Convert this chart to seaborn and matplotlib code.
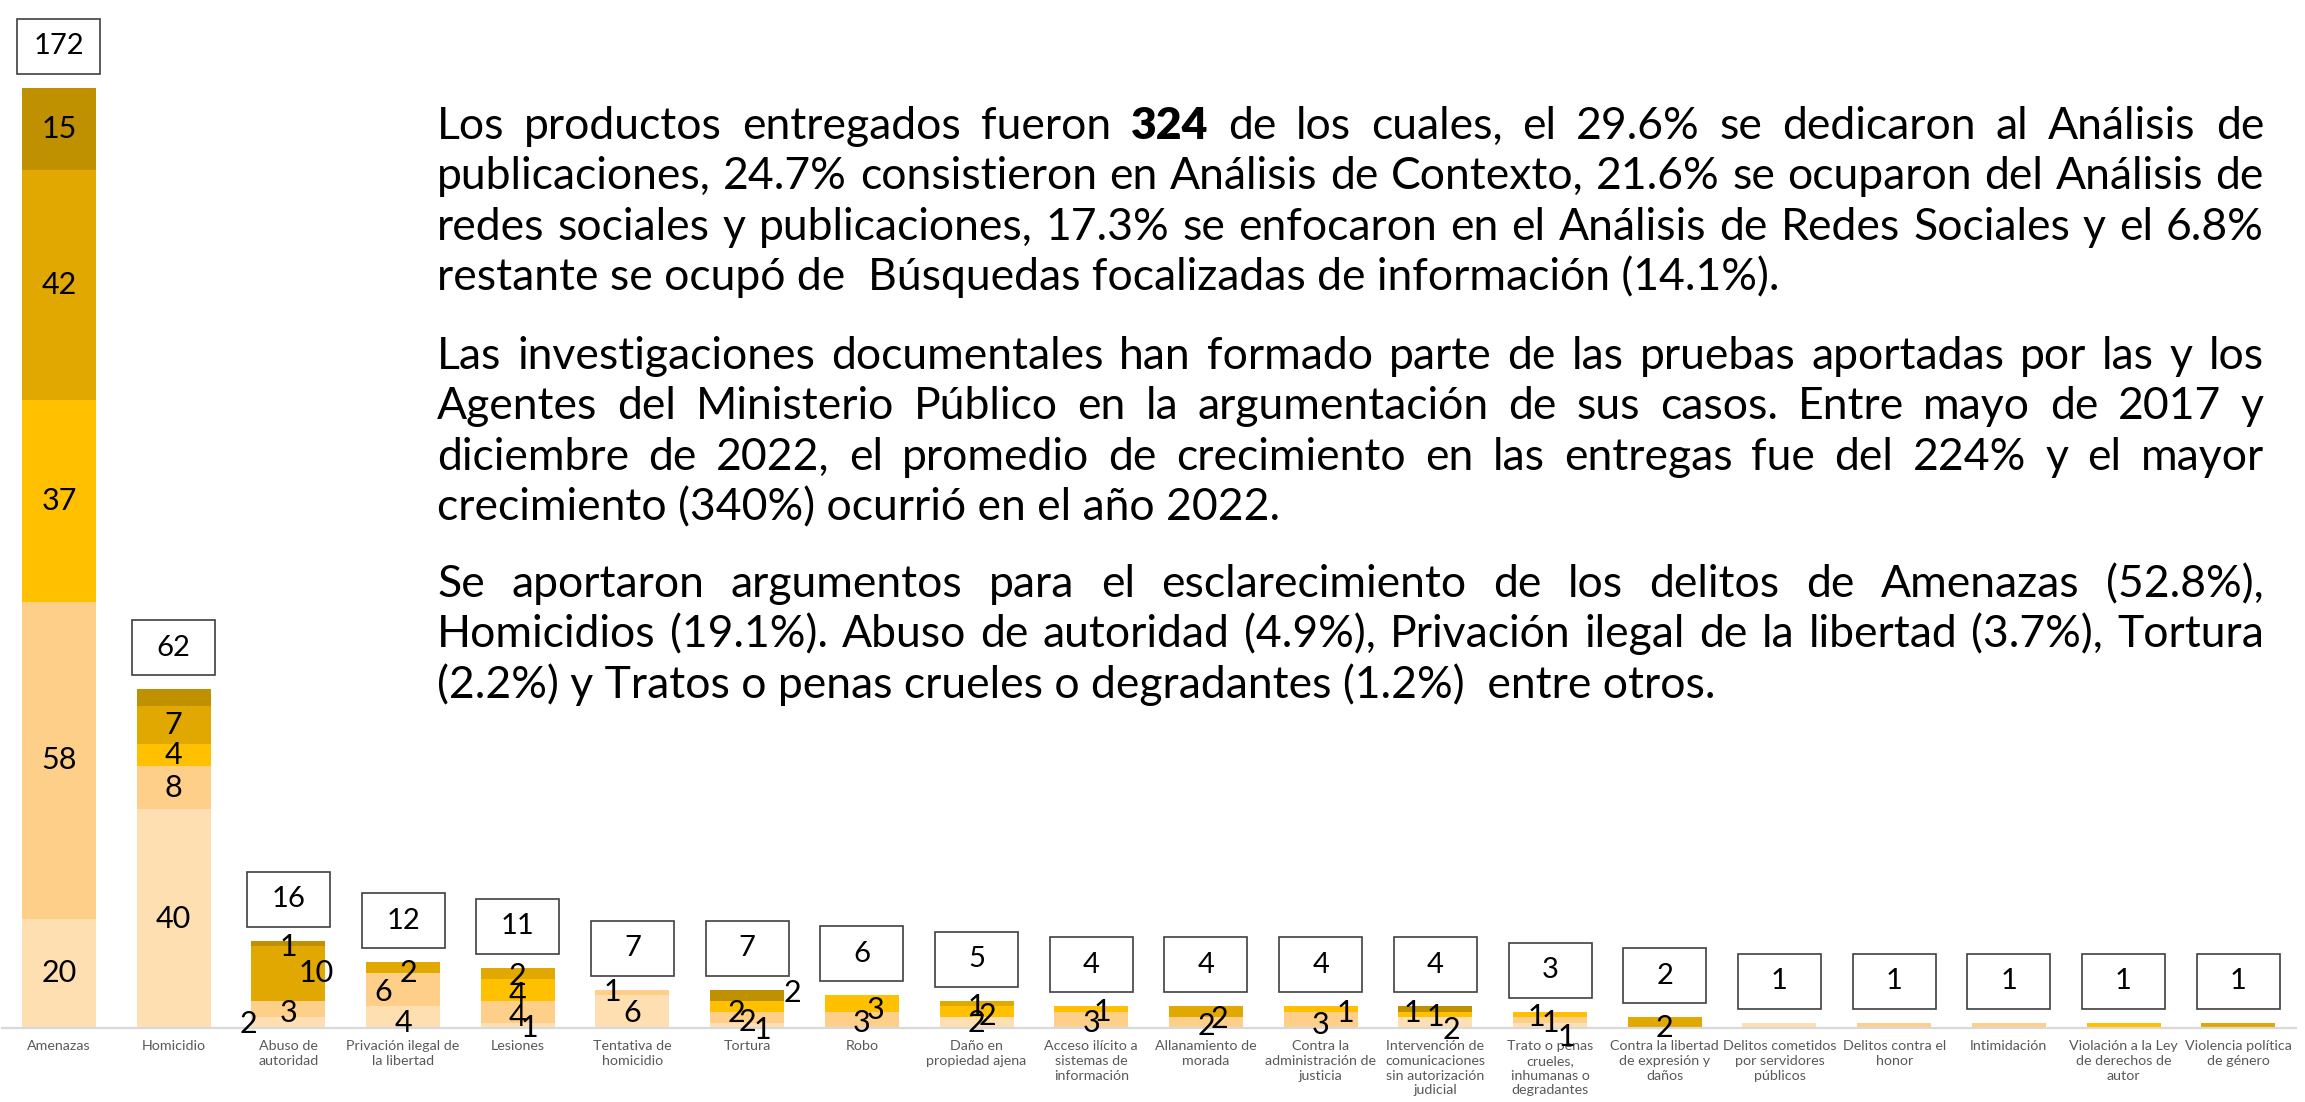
import numpy as np
import pandas as pd
import matplotlib
matplotlib.use("Agg")
import matplotlib.pyplot as plt
import seaborn as sns
from matplotlib.patches import Rectangle
from matplotlib.transforms import IdentityTransform

# ---------------- data ----------------
categories = [
    "Amenazas", "Homicidio", "Abuso de autoridad", "Privación ilegal de la libertad",
    "Lesiones", "Tentativa de homicidio", "Tortura", "Robo", "Daño en propiedad ajena",
    "Acceso ilícito a sistemas de información", "Allanamiento de morada",
    "Contra la administración de justicia",
    "Intervención de comunicaciones sin autorización judicial",
    "Trato o penas crueles, inhumanas o degradantes",
    "Contra la libertad de expresión y daños", "Delitos cometidos por servidores públicos",
    "Delitos contra el honor", "Intimidación", "Violación a la Ley de derechos de autor",
    "Violencia política de género",
]
tick_labels = [
    "Amenazas", "Homicidio", "Abuso de\nautoridad", "Privación ilegal de\nla libertad",
    "Lesiones", "Tentativa de\nhomicidio", "Tortura", "Robo", "Daño en\npropiedad ajena",
    "Acceso ilícito a\nsistemas de\ninformación", "Allanamiento de\nmorada",
    "Contra la\nadministración de\njusticia",
    "Intervención de\ncomunicaciones\nsin autorización\njudicial",
    "Trato o penas\ncrueles,\ninhumanas o\ndegradantes",
    "Contra la libertad\nde expresión y\ndaños", "Delitos cometidos\npor servidores\npúblicos",
    "Delitos contra el\nhonor", "Intimidación", "Violación a la Ley\nde derechos de\nautor",
    "Violencia política\nde género",
]
serie1 = [20, 40, 2, 4, 1, 6, 1, 0, 2, 0, 0, 0, 2, 1, 0, 1, 0, 0, 0, 0]
serie2 = [58, 8, 3, 6, 4, 1, 2, 3, 0, 3, 2, 3, 0, 1, 0, 0, 1, 1, 0, 0]
serie3 = [37, 4, 0, 0, 4, 0, 2, 3, 2, 1, 0, 1, 1, 1, 0, 0, 0, 0, 1, 0]
serie4 = [42, 7, 10, 2, 2, 0, 0, 0, 1, 0, 2, 0, 0, 0, 2, 0, 0, 0, 0, 1]
serie5 = [15, 3, 1, 0, 0, 0, 2, 0, 0, 0, 0, 0, 1, 0, 0, 0, 0, 0, 0, 0]
series = [serie1, serie2, serie3, serie4, serie5]

colors = ["#FDDFB2", "#FDCF89", "#FFC000", "#E0A800", "#BF9000"]

# label placement tweaks (pixels; dx right, dy down) and hidden labels
label_offsets = {
    (2, 0): (-40, 1), (2, 1): (0, 4), (2, 3): (28, 0), (2, 4): (0, 4),
    (3, 0): (0, 6), (3, 1): (-20, 2), (3, 3): (5, 5),
    (4, 0): (12, 3), (4, 1): (0, 5), (4, 2): (0, 5), (4, 3): (0, 3),
    (5, 0): (0, 1), (5, 1): (-20, 0),
    (6, 0): (15, 5), (6, 1): (0, 5), (6, 2): (-11, 7), (6, 4): (45, -2),
    (7, 1): (0, 3), (7, 2): (14, 7),
    (8, 2): (11, 4), (8, 3): (0, 4),
    (9, 1): (0, 3), (9, 2): (11, 3),
    (10, 1): (0, 3), (10, 3): (13, 7),
    (11, 1): (0, 5), (11, 2): (25, 4),
    (12, 0): (16, 7), (12, 2): (0, 3), (12, 4): (-23, 4),
    (13, 0): (16, 12), (13, 1): (0, 3), (13, 2): (-14, 3),
    (14, 3): (0, 5),
}
hidden = {(1, 4)} | {(i, k) for i in range(15, 20) for k in range(5)}

FONT = ["Lato", "DejaVu Sans"]

# ---------------- figure ----------------
W, H = 2305, 1102
sns.set_style("white")
plt.rcParams["font.family"] = FONT
fig = plt.figure(figsize=(W / 100, H / 100), dpi=100)
ax = fig.add_axes([1.6 / W, 74 / H, 2294 / W, 1028 / H])

df = pd.DataFrame({"categoria": categories})
cum = np.zeros(len(categories))
for k, s in enumerate(series):
    cum = cum + np.array(s)
    df[f"cum{k}"] = cum

for k in reversed(range(5)):
    sns.barplot(data=df, x="categoria", y=f"cum{k}", order=categories,
                color=colors[k], saturation=1, width=0.645, errorbar=None,
                linewidth=0, ax=ax)

ax.set_xlim(-0.5, 19.5)
ax.set_ylim(0, 188.1)
ax.set_xlabel("")
ax.set_ylabel("")
ax.set_yticks([])
ax.set_xticks(range(len(categories)))
ax.set_xticklabels(tick_labels, fontsize=10.3, color="#595959", linespacing=1.25)
ax.tick_params(axis="x", length=0, pad=9)
for sp in ["top", "left", "right"]:
    ax.spines[sp].set_visible(False)
ax.spines["bottom"].set_color("#D9D9D9")
ax.spines["bottom"].set_linewidth(1.6)

# segment labels
for i in range(len(categories)):
    base = 0
    for k, s in enumerate(series):
        v = s[i]
        if v > 0 and (i, k) not in hidden:
            dx, dy = label_offsets.get((i, k), (0, 0))
            ax.annotate(str(v), xy=(i, base + v / 2), xytext=(dx, -dy),
                        textcoords="offset pixels", ha="center", va="center",
                        fontsize=22, color="black")
        base += v

# total boxes
totals = [sum(s[i] for s in series) for i in range(len(categories))]
bw, bh, gap = 83, 55, 14
for i, t in enumerate(totals):
    px, py = ax.transData.transform((i, t))
    y0 = min(py + gap, H - 3 - bh)
    rect = Rectangle((px - bw / 2, y0), bw, bh, transform=IdentityTransform(),
                     facecolor="white", edgecolor="#404040", linewidth=1.2)
    fig.add_artist(rect)
    fig.text(px, y0 + bh / 2, str(t), transform=IdentityTransform(),
             ha="center", va="center", fontsize=21, color="black")

# ---------------- paragraph text (justified) ----------------
p1 = [
    "Los productos entregados fueron **324** de los cuales, el 29.6% se dedicaron al Análisis de",
    "publicaciones, 24.7% consistieron en Análisis de Contexto, 21.6% se ocuparon del Análisis de",
    "redes sociales y publicaciones, 17.3% se enfocaron en el Análisis de Redes Sociales y el 6.8%",
    "restante se ocupó de  Búsquedas focalizadas de información (14.1%).",
]
p2 = [
    "Las investigaciones documentales han formado parte de las pruebas aportadas por las y los",
    "Agentes del Ministerio Público en la argumentación de sus casos. Entre mayo de 2017 y",
    "diciembre de 2022, el promedio de crecimiento en las entregas fue del 224% y el mayor",
    "crecimiento (340%) ocurrió en el año 2022.",
]
p3 = [
    "Se aportaron argumentos para el esclarecimiento de los delitos de Amenazas (52.8%),",
    "Homicidios (19.1%). Abuso de autoridad (4.9%), Privación ilegal de la libertad (3.7%), Tortura",
    "(2.2%) y Tratos o penas crueles o degradantes (1.2%)  entre otros.",
]
paragraphs = [(p1, 139), (p2, 369), (p3, 597)]
x_left, x_right, line_h = 437, 2264, 50.4
PW = "normal"

renderer = fig.canvas.get_renderer()


def text_width(s, size, weight="normal"):
    t = fig.text(0, 0, s, fontsize=size, weight=weight, transform=IdentityTransform())
    w = t.get_window_extent(renderer).width
    t.remove()
    return w


para_size = 30 * 1342 / text_width(p1[3], 30, PW)

for lines, y_first in paragraphs:
    for j, line in enumerate(lines):
        y = H - (y_first + j * line_h)
        if j == len(lines) - 1:
            fig.text(x_left, y, line, transform=IdentityTransform(), ha="left",
                     va="baseline", fontsize=para_size, weight=PW, color="black")
            continue
        words = line.split()
        toks = []
        for w_ in words:
            if w_.startswith("**"):
                toks.append((w_.strip("*"), "heavy"))
            else:
                toks.append((w_, PW))
        widths = [text_width(w_, para_size, wt) for w_, wt in toks]
        space = (x_right - x_left - sum(widths)) / (len(toks) - 1)
        x = x_left
        for (w_, wt), wd in zip(toks, widths):
            fig.text(x, y, w_, transform=IdentityTransform(), ha="left",
                     va="baseline", fontsize=para_size, weight=wt, color="black")
            x += wd + space

fig.savefig("out.png", dpi=100)
